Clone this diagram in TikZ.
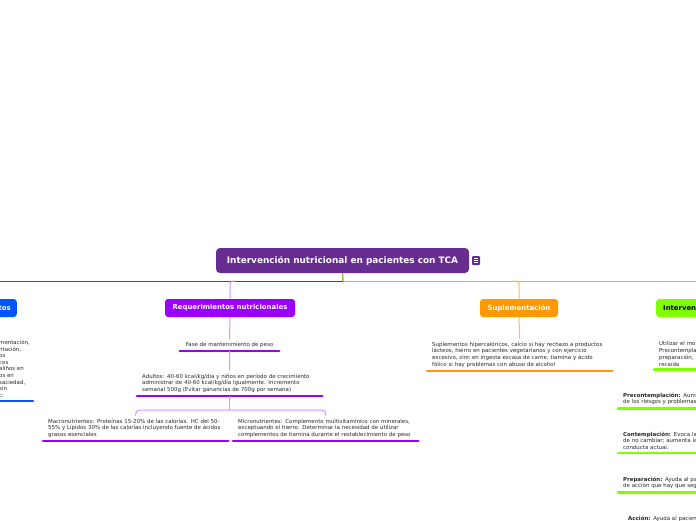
\documentclass[tikz,border=0pt]{standalone}
\usepackage{fontspec}
\setmainfont{DejaVu Sans}
\definecolor{rootc}{RGB}{103,44,143}
\definecolor{reqc}{RGB}{155,0,255}
\definecolor{reqlight}{RGB}{210,150,255}
\definecolor{bluec}{RGB}{0,85,255}
\definecolor{orangec}{RGB}{255,153,0}
\definecolor{orangelight}{RGB}{255,185,90}
\definecolor{greenc}{RGB}{128,255,0}
\definecolor{greenline}{RGB}{130,225,40}
\definecolor{stemc}{RGB}{150,190,40}
\definecolor{txt}{RGB}{40,40,40}
\tikzset{
  mainbox/.style={fill=rootc, rounded corners=4pt, text=white, font=\fontsize{8.9}{10}\selectfont\bfseries, minimum width=253pt, minimum height=25pt, inner sep=0pt},
  topicbox/.style={rounded corners=3pt, text=white, font=\fontsize{6.9}{8}\selectfont\bfseries, minimum height=18pt, inner sep=0pt},
  leaf/.style={anchor=north west, text width=175pt, align=left, inner xsep=5pt, inner ysep=3pt, text=txt, font=\fontsize{5.45}{6.8}\selectfont},
  ul/.style={line width=2.6pt, line cap=round},
  thin/.style={line width=1pt}
}
\begin{document}
\begin{tikzpicture}[x=1pt,y=-1pt]
\useasboundingbox (0,0) rectangle (696,520);
\fill[white] (0,0) rectangle (696,520);
\clip (0,0) rectangle (696,520);

% root
\node[mainbox] (root) at (342.5,260.5) {Intervención nutricional en pacientes con TCA};
\node[fill=rootc, rounded corners=1pt, minimum width=8pt, minimum height=9pt, inner sep=0pt] (icon) at (476,260.5) {};
\foreach \dy in {-2,0,2}{
  \draw[white, line width=0.6pt] ([xshift=-2.3pt,yshift=\dy pt]icon.center) -- ([xshift=2.3pt,yshift=\dy pt]icon.center);
}

\coordinate (hub) at (343,281);
\coordinate (bl) at (0,281);
\coordinate (gr) at (696,281);
\coordinate (pj) at (230,281);
\coordinate (oj) at (518,281);

\draw[stemc, line width=1.4pt] (root.south) -- (hub);
\draw[bluec, thin] (bl) -- (pj);
\draw[reqc, thin] (pj) -- (hub);
\draw[greenline, thin] (hub) -- (gr);

% topic nodes
\node[topicbox, fill=bluec, anchor=east, text width=50pt, align=right, inner xsep=6pt] (trat) at (17,308) {tos};
\node[topicbox, fill=reqc, minimum width=130pt] (req) at (230,308) {Requerimientos nutricionales};
\node[topicbox, fill=orangec, minimum width=78pt] (sup) at (519,308) {Suplementación};
\node[topicbox, fill=greenc, text=black, anchor=west, text width=60pt, align=left, inner xsep=7pt] (interv) at (656,308) {Interven};

\draw[reqlight, thin, rounded corners=3pt] (req.north) |- ([xshift=5pt]pj);
\draw[orangelight, thin, rounded corners=3pt] (sup.north) |- ([xshift=-5pt]oj);

% blue (left) leaf
\node[anchor=north west, align=left, inner sep=0pt, text=txt, font=\fontsize{5.45}{6.6}\selectfont] (tratxt) at (-1,340) {mentación,\\ ntación,\\ os\\ cos\\ alíños en\\ os en\\ saciedad,\\ sin\\ c:};
\coordinate (tratul1) at (0,401);
\coordinate (tratul2) at (33,401);
\draw[ul, bluec] (tratul1) -- (tratul2);

% requerimientos branch
\node[text=txt, font=\fontsize{5.45}{6.8}\selectfont, minimum width=99pt, inner xsep=0pt, inner ysep=3pt] (fase) at (229.5,345.3) {Fase de mantenimiento de peso};
\draw[ul, reqc] (fase.south west) -- (fase.south east);
\draw[reqlight, thin] (req.south) -- (fase.north);

\node[leaf] (adult) at (137,370.5) {Adultos: 40-60 kcal/kg/día y niños en período de crecimiento\\ administrar de 40-60 kcal/kg/día igualmente. Incremento\\ semanal 500g (Evitar ganancias de 700g por semana)};
\draw[ul, reqc] (adult.south west) -- (adult.south east);
\draw[reqlight, thin] (fase.south) -- (adult.north);

\node[leaf] (macro) at (43,415.5) {Macronutrientes: Proteínas 15-20\% de las calorías. HC del 50-\\ 55\% y Lípidos 30\% de las calorías incluyendo fuente de ácidos\\ grasos esenciales};
\draw[ul, reqc] (macro.south west) -- (macro.south east);
\node[leaf] (micro) at (233,415.5) {Micronutrientes: Complemento multivitamínico con minerales,\\ exceptuando el hierro. Determinar la necesidad de utilizar\\ complementos de tiamina durante el restablecimiento de peso};
\draw[ul, reqc] (micro.south west) -- (micro.south east);

\draw[reqlight, thin] (adult.south) -- ++(0,14) coordinate (split);
\draw[reqlight, thin, rounded corners=4pt] (split) -| (macro.north);
\draw[reqlight, thin, rounded corners=4pt] (split) -| (micro.north);

% suplementacion
\node[leaf] (suptxt) at (427,338.5) {Suplementos hipercalóricos, calcio si hay rechazo a productos\\ lácteos, hierro en pacientes vegetarianos y con ejercicio\\ excesivo, zinc en ingesta escasa de carne, tiamina y ácido\\ fólico si hay problemas con abuso de alcohol};
\draw[ul, orangec] (suptxt.south west) -- (suptxt.south east);
\draw[orangelight, thin] (sup.south) -- (suptxt.north);

% intervencion (right, cut off)
\node[leaf] (util) at (654,338.5) {Utilizar el mo\\ Precontempla\\ preparación,\\ recaída};
\draw[ul, greenc] (util.south west) -- (util.south east);

\node[leaf] (precon) at (618,389.5) {\textbf{Precontemplación:} Aume\\ de los riesgos y problemas};
\draw[ul, greenc] (precon.south west) -- (precon.south east);
\node[leaf] (contem) at (618,428.5) {\textbf{Contemplación:} Evoca la\\ de no cambiar; aumenta la\\ conducta actual.};
\draw[ul, greenc] (contem.south west) -- (contem.south east);
\node[leaf] (prepa) at (618,473.5) {\textbf{Preparación:} Ayuda al pa\\ de acción que hay que seg};
\draw[ul, greenc] (prepa.south west) -- (prepa.south east);
\node[leaf] (accion) at (623,512.5) {\textbf{Acción:} Ayuda al pacien};
\end{tikzpicture}
\end{document}
